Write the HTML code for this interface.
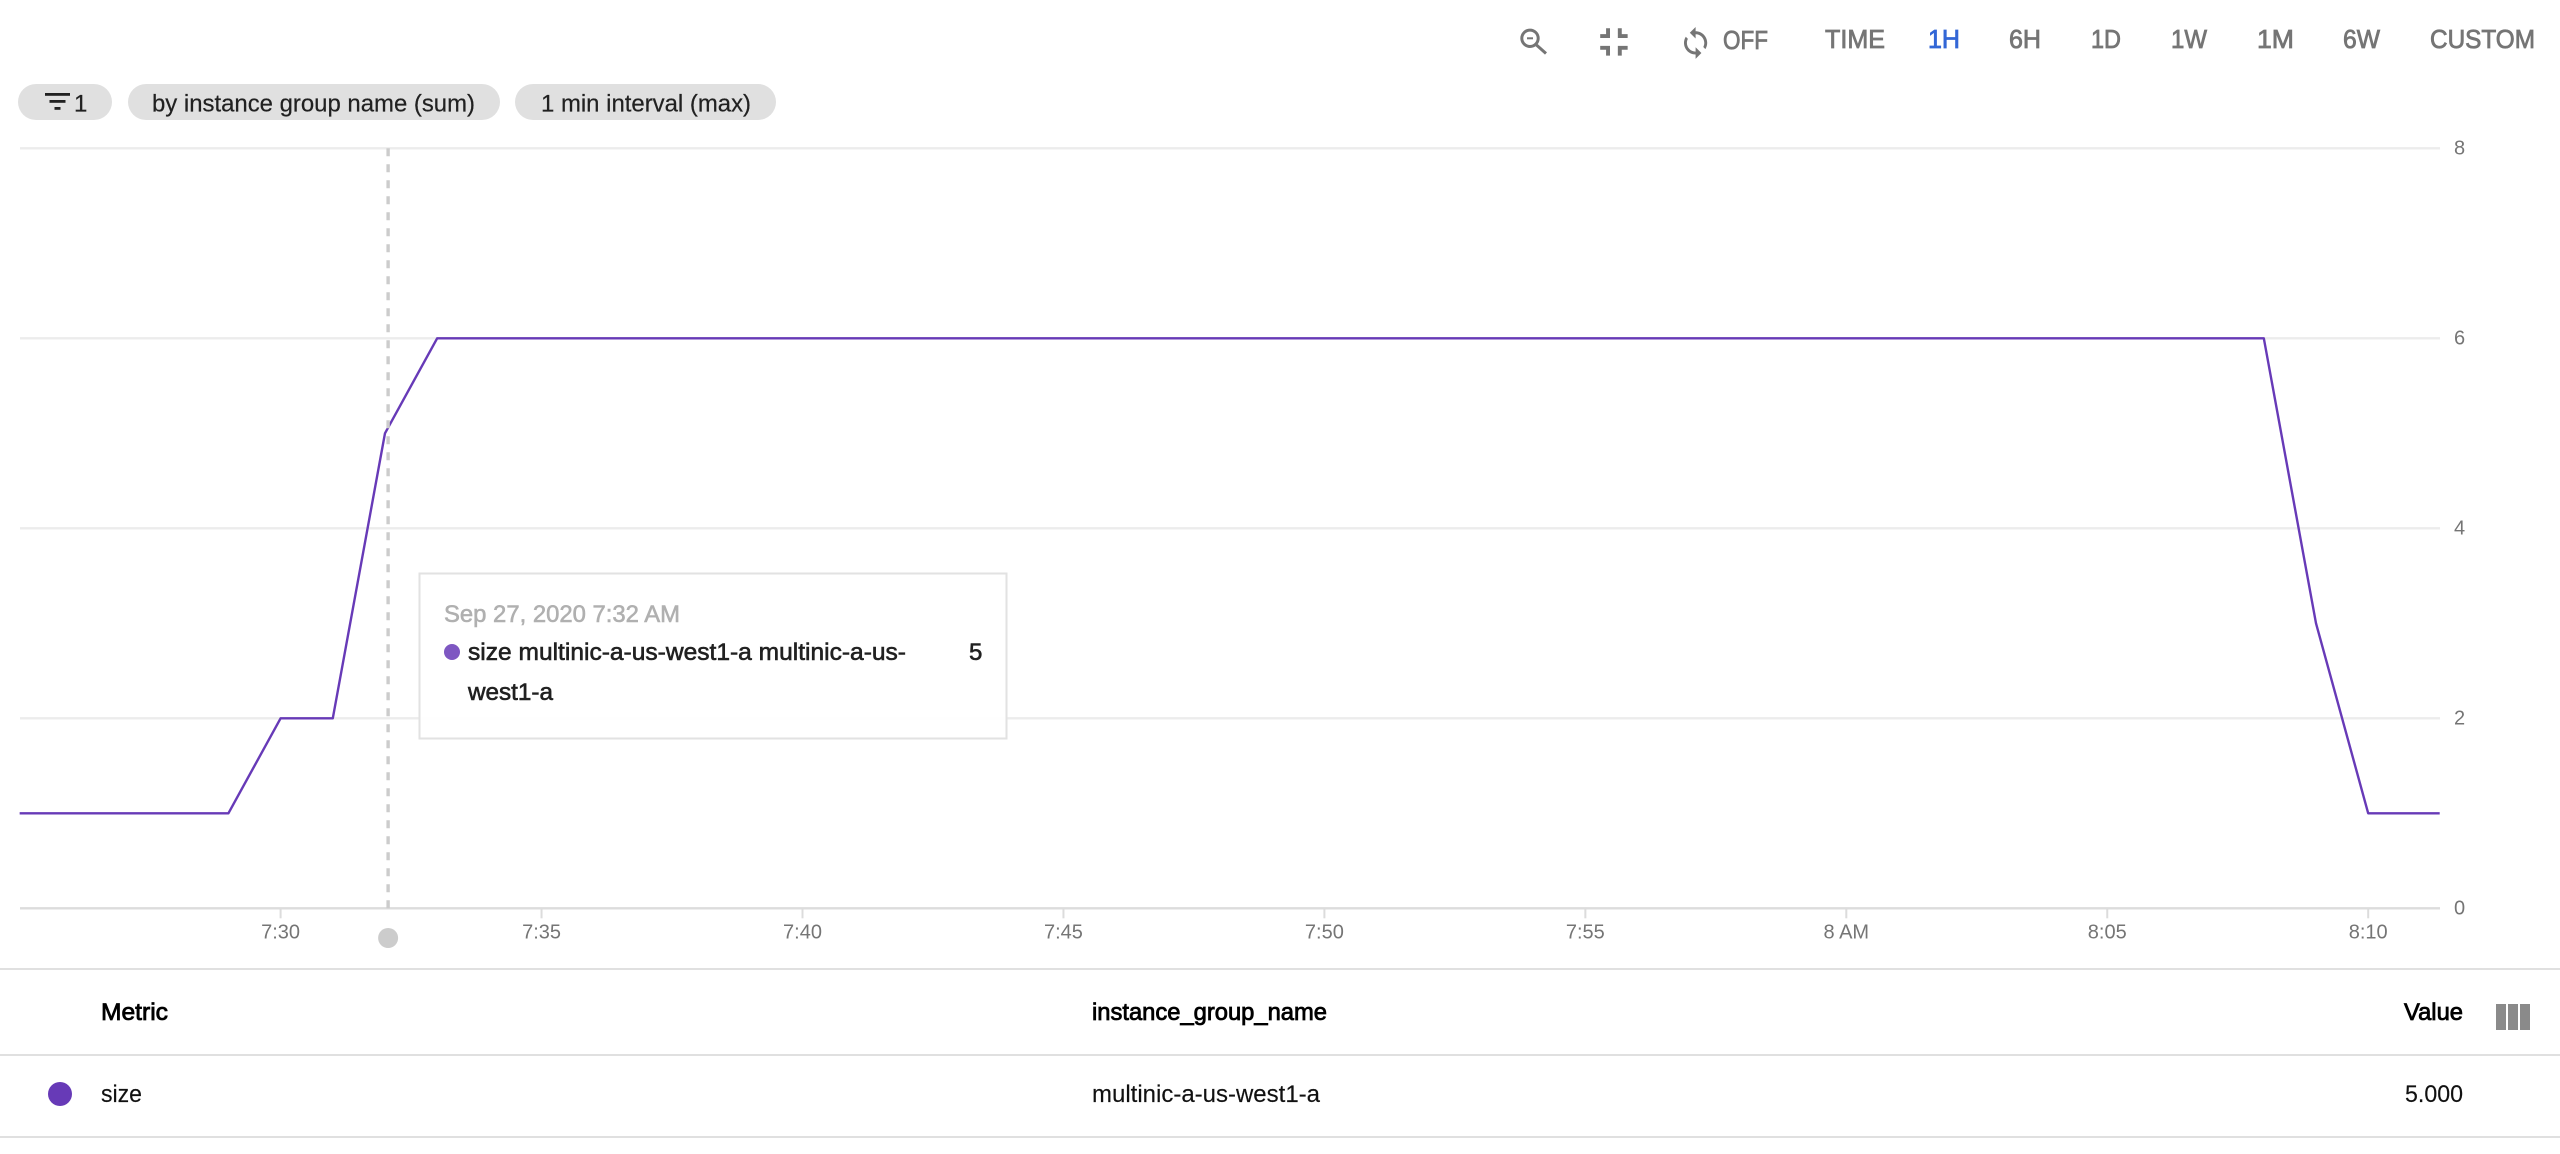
<!DOCTYPE html>
<html lang="en">
<head>
<meta charset="utf-8">
<title>Instance group size chart</title>
<style>
  html, body { margin: 0; padding: 0; background: #fff; }
  body { width: 2560px; height: 1154px; overflow: hidden; }
  svg { display: block; }
  text { font-family: "Liberation Sans", Arial, sans-serif; }
  .hdr { font-size: 26px; fill: #757575; stroke: #757575; stroke-width: .8px; }
  .chip { font-size: 24px; fill: #212121; stroke: #212121; stroke-width: .2px; }
  .tick { font-size: 20px; fill: #757575; }
  .th { font-size: 24px; fill: #000; stroke: #000; stroke-width: .8px; }
  .td { font-size: 24px; fill: #111; stroke: #111; stroke-width: .15px; }
  .tipt { font-size: 24px; fill: #212121; stroke: #212121; stroke-width: .6px; }
</style>
</head>
<body>
<svg id="page" xmlns="http://www.w3.org/2000/svg" width="2560" height="1154" viewBox="0 0 2560 1154">
  <rect width="2560" height="1154" fill="#fff"/>

  <g>
    <g fill="none" stroke="#757575" stroke-width="3">
      <circle cx="1530" cy="38.3" r="8.2"/>
      <path d="M1536.5 45 L1546 53.5"/>
      <path d="M1527 38.3 H1533" stroke-width="2"/>
    </g>
    <path fill="#757575" transform="translate(1590.4 18.4) scale(1.96)" d="M5 16h3v3h2v-5H5v2zm3-8H5v2h5V5H8v3zm6 11h2v-3h3v-2h-5v5zm2-11V5h-2v5h5V8h-3z"/>
    <path fill="#757575" transform="translate(1678.2 25.5) scale(1.45)" d="M12 4V1L8 5l4 4V6c3.31 0 6 2.69 6 6 0 1.01-.25 1.97-.7 2.8l1.46 1.46C19.54 15.03 20 13.57 20 12c0-4.42-3.58-8-8-8zm0 14c-3.31 0-6-2.69-6-6 0-1.01.25-1.97.7-2.8L5.24 7.74C4.46 8.97 4 10.43 4 12c0 4.42 3.58 8 8 8v3l4-4-4-4v3z"/>
    <text class="hdr" x="1723" y="49" textLength="45" lengthAdjust="spacingAndGlyphs">OFF</text>
    <text class="hdr" x="1825" y="48" textLength="60" lengthAdjust="spacingAndGlyphs">TIME</text>
    <text class="hdr" x="1928" y="48" textLength="32" lengthAdjust="spacingAndGlyphs" style="fill:#3367d6;stroke:#3367d6">1H</text>
    <text class="hdr" x="2009" y="48" textLength="32" lengthAdjust="spacingAndGlyphs">6H</text>
    <text class="hdr" x="2091" y="48" textLength="30" lengthAdjust="spacingAndGlyphs">1D</text>
    <text class="hdr" x="2171" y="48" textLength="36" lengthAdjust="spacingAndGlyphs">1W</text>
    <text class="hdr" x="2257" y="48" textLength="37" lengthAdjust="spacingAndGlyphs">1M</text>
    <text class="hdr" x="2343" y="48" textLength="37" lengthAdjust="spacingAndGlyphs">6W</text>
    <text class="hdr" x="2430" y="48" textLength="105" lengthAdjust="spacingAndGlyphs">CUSTOM</text>
  </g>

  <g>
    <g>
      <rect x="18" y="84" width="94" height="36" rx="18" fill="#e0e0e0"/>
      <rect x="45" y="93" width="25" height="2.8" fill="#212121"/>
      <rect x="49.5" y="100" width="16" height="2.8" fill="#212121"/>
      <rect x="54.5" y="107" width="6" height="2.8" fill="#212121"/>
      <text class="chip" x="74" y="111.5">1</text>
    </g>
    <g>
      <rect x="128" y="84" width="372" height="36" rx="18" fill="#e0e0e0"/>
      <text class="chip" x="152" y="111.5" textLength="323" lengthAdjust="spacingAndGlyphs">by instance group name (sum)</text>
    </g>
    <g>
      <rect x="515" y="84" width="261" height="36" rx="18" fill="#e0e0e0"/>
      <text class="chip" x="541" y="111.5" textLength="210" lengthAdjust="spacingAndGlyphs">1 min interval (max)</text>
    </g>
  </g>

  <g id="chart"></g>

  <g>
    <rect x="419.5" y="573.5" width="587" height="165" fill="#fff" fill-opacity=".93" stroke="#e2e2e2" stroke-width="2"/>
    <text x="444" y="622" font-size="24" fill="#b0b0b0" stroke="#b0b0b0" stroke-width=".6" textLength="236" lengthAdjust="spacingAndGlyphs">Sep 27, 2020 7:32 AM</text>
    <circle cx="452" cy="652" r="8" fill="#7e57c2"/>
    <text class="tipt" x="468" y="660" textLength="438" lengthAdjust="spacingAndGlyphs">size multinic-a-us-west1-a multinic-a-us-</text>
    <text class="tipt" x="468" y="700" textLength="85" lengthAdjust="spacingAndGlyphs">west1-a</text>
    <text class="tipt" x="969" y="660">5</text>
  </g>

  <g>
    <rect x="0" y="968" width="2560" height="2" fill="#e0e0e0"/>
    <rect x="0" y="1054" width="2560" height="2" fill="#e0e0e0"/>
    <rect x="0" y="1136" width="2560" height="2" fill="#e0e0e0"/>
    <text class="th" x="101" y="1020" textLength="67" lengthAdjust="spacingAndGlyphs">Metric</text>
    <text class="th" x="1092" y="1020" textLength="235" lengthAdjust="spacingAndGlyphs">instance_group_name</text>
    <text class="th" x="2404" y="1020" textLength="59" lengthAdjust="spacingAndGlyphs">Value</text>
    <g fill="#8a8a8a">
      <rect x="2496" y="1004" width="10" height="26"/>
      <rect x="2508" y="1004" width="10" height="26"/>
      <rect x="2520" y="1004" width="10" height="26"/>
    </g>
    <circle cx="60" cy="1094" r="12" fill="#673ab7"/>
    <text class="td" x="101" y="1102" textLength="41" lengthAdjust="spacingAndGlyphs">size</text>
    <text class="td" x="1092" y="1102" textLength="228" lengthAdjust="spacingAndGlyphs">multinic-a-us-west1-a</text>
    <text class="td" x="2405" y="1102" textLength="58" lengthAdjust="spacingAndGlyphs">5.000</text>
  </g>
</svg>

<script>
// Chart data: times are minutes after 7:00 AM
const times = [25,26,27,28,29,30,31,32,33,34,35,36,37,38,39,40,41,42,43,44,45,46,47,48,49,50,51,52,53,54,55,56,57,58,59,60,61,62,63,64,65,66,67,68,69,70,71,71.37];
const sizeValues = [1,1,1,1,1,2,2,5,6,6,6,6,6,6,6,6,6,6,6,6,6,6,6,6,6,6,6,6,6,6,6,6,6,6,6,6,6,6,6,6,6,6,6,6,3,1,1,1];
const xTickMinutes = [30,35,40,45,50,55,60,65,70];
const xTickLabels = ["7:30","7:35","7:40","7:45","7:50","7:55","8 AM","8:05","8:10"];
const yTicks = [0,2,4,6,8];
const hoverMinute = 32.06;

const NS = "http://www.w3.org/2000/svg";
const chart = document.getElementById("chart");
const plotLeft = 20, plotRight = 2440;
const xAxis = m => 280.6 + (m - 30) * 52.19;
const yAxis = v => 908.3 - v * 95;

function make(tag, attrs, text) {
  const el = document.createElementNS(NS, tag);
  for (const k in attrs) el.setAttribute(k, attrs[k]);
  if (text !== undefined) el.textContent = text;
  chart.appendChild(el);
  return el;
}

yTicks.forEach(function (v) {
  const grid = make("line", { x1: plotLeft, x2: plotRight, y1: yAxis(v), y2: yAxis(v), stroke: v === 0 ? "#dcdcdc" : "#ececec", "stroke-width": 2.4 });
  
  
  const label = make("text", { class: "tick", x: 2454, y: yAxis(v) + 6 }, String(v));
  
  
});

xTickMinutes.forEach(function (m, i) {
  const tick = make("line", { x1: xAxis(m), x2: xAxis(m), y1: yAxis(0), y2: yAxis(0) + 10, stroke: "#dcdcdc", "stroke-width": 2 });
  
  
  const label = make("text", { class: "tick", x: xAxis(m), y: 938.5, "text-anchor": "middle" }, xTickLabels[i]);
  
  
});

const series = make("polyline", {
  points: times.map((t, i) => xAxis(t).toFixed(2) + "," + yAxis(sizeValues[i]).toFixed(2)).join(" "),
  fill: "none", stroke: "#673ab7", "stroke-width": 2.4, "stroke-linejoin": "round"
});



const crosshair = make("line", {
  x1: xAxis(hoverMinute), x2: xAxis(hoverMinute), y1: yAxis(8), y2: yAxis(0),
  stroke: "#cccccc", "stroke-width": 3.4, "stroke-dasharray": "8 8"
});



const handle = make("circle", { cx: xAxis(hoverMinute), cy: 938, r: 10, fill: "#cccccc" });


</script>
</body>
</html>
